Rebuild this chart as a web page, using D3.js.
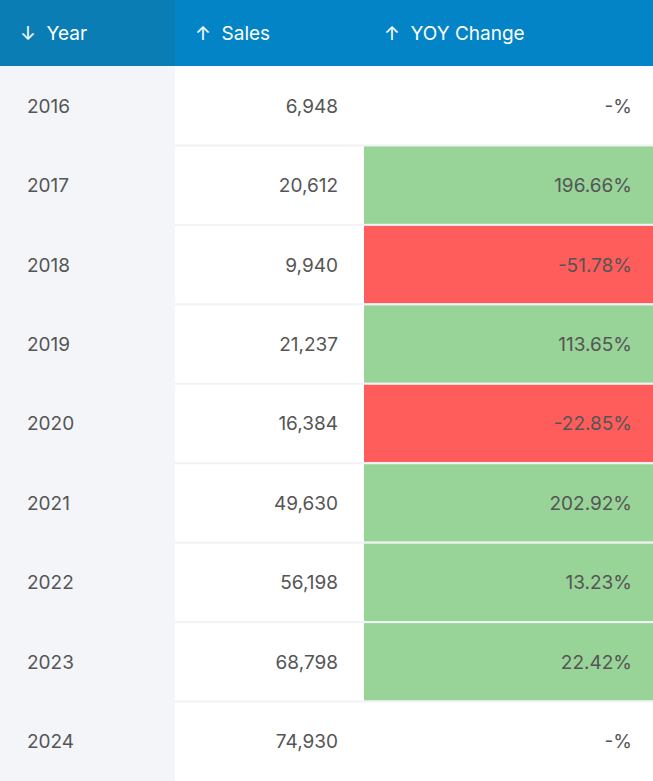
<!DOCTYPE html>
<html><head><meta charset="utf-8">
<script src="https://cdn.jsdelivr.net/npm/d3@7"></script>
<style>body{margin:0;background:#fff;}</style>
</head><body>
<svg id="chart"></svg>
<script>
// table data
const years = [2016, 2017, 2018, 2019, 2020, 2021, 2022, 2023, 2024];
const sales = [6948, 20612, 9940, 21237, 16384, 49630, 56198, 68798, 74930];
const yoy = [null, 196.66, -51.78, 113.65, -22.85, 202.92, 13.23, 22.42, null];
const headers = ["↓  Year", "↑  Sales", "↑  YOY Change"];

const width = 653, height = 781, headerH = 66;
const cols = [0, 175, 364, 653];
const font = "Inter, 'Noto Sans', sans-serif";

const svg = d3.select("#chart").attr("width", width).attr("height", height);

const y = d3.scaleBand().domain(years).range([headerH, height]);

// header
svg.selectAll(".hd").data(headers).enter().append("rect")
    .attr("x", (d, i) => cols[i]).attr("y", 0)
    .attr("width", (d, i) => cols[i + 1] - cols[i]).attr("height", headerH)
    .attr("fill", (d, i) => i === 0 ? "#0a7db5" : "#0284c7");
svg.selectAll(".ht").data(headers).enter().append("text")
    .attr("x", (d, i) => cols[i] + 20).attr("y", headerH / 2 + 7)
    .attr("fill", "white").attr("font-family", font).attr("font-size", 19)
    .attr("xml:space", "preserve").text(d => d);

// year column background
svg.append("rect").attr("x", 0).attr("y", headerH)
    .attr("width", cols[1]).attr("height", height - headerH).attr("fill", "#f4f5f9");

const rows = svg.selectAll(".row").data(years).enter().append("g")
    .attr("transform", d => `translate(0,${y(d)})`);

// row separators
rows.filter((d, i) => i > 0).append("rect")
    .attr("x", cols[1]).attr("y", -1).attr("width", width - cols[1]).attr("height", 2)
    .attr("fill", "#f1f2f6");

// yoy cells
rows.append("rect")
    .attr("x", cols[2]).attr("y", 1)
    .attr("width", cols[3] - cols[2]).attr("height", y.bandwidth() - 2)
    .attr("fill", (d, i) => yoy[i] == null ? "none" : yoy[i] >= 0 ? "#98d398" : "#ff5c5c");

const txt = g => g.attr("font-family", font).attr("font-size", 19).attr("fill", "#555")
    .attr("y", y.bandwidth() / 2 + 7);

rows.append("text").call(txt).attr("x", 27).text(d => d);
rows.append("text").call(txt).attr("x", 338).attr("text-anchor", "end")
    .text((d, i) => d3.format(",")(sales[i]));
rows.append("text").call(txt).attr("x", 632).attr("text-anchor", "end")
    .text((d, i) => yoy[i] == null ? "-%" : yoy[i].toFixed(2) + "%");
</script>
</body></html>
